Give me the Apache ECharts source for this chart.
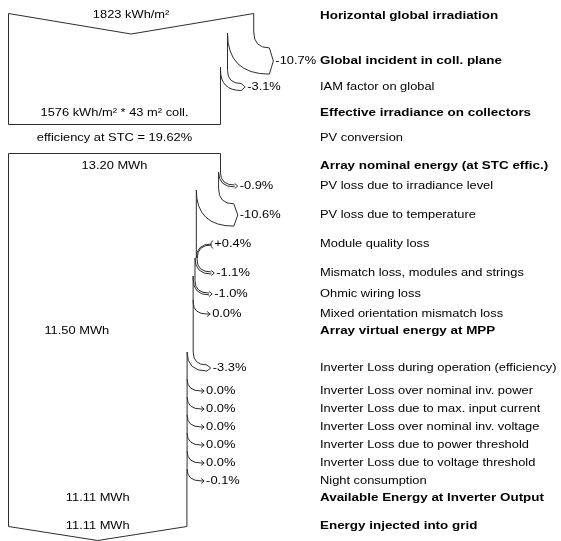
<!DOCTYPE html>
<html>
<head>
<meta charset="utf-8">
<script src="https://cdn.jsdelivr.net/npm/echarts@6/dist/echarts.min.js"></script>
<style>
  html, body { margin: 0; padding: 0; background: #fff; }
  #chart { width: 561px; height: 541px; }
</style>
</head>
<body>
<div id="chart"></div>
<script>
// ---------- values ----------
// Irradiance part (kWh/m²)
const irrStageNames = ['Horizontal global irradiation', 'Effective irradiance on collectors'];
const irrValues = [1823, 1576];
const collectorArea = 43; // m²
const irrLossNames = ['Global incident in coll. plane', 'IAM factor on global'];
const irrLossPct = [-10.7, -3.1];

// PV conversion
const conversionName = 'PV conversion';
const stcEfficiency = 19.62; // %

// Energy part (MWh)
const energyStageNames = [
  'Array nominal energy (at STC effic.)',
  'Array virtual energy at MPP',
  'Available Energy at Inverter Output',
  'Energy injected into grid'
];
const energyValues = [13.20, 11.50, 11.11, 11.11];
const arrayLossNames = [
  'PV loss due to irradiance level',
  'PV loss due to temperature',
  'Module quality loss',
  'Mismatch loss, modules and strings',
  'Ohmic wiring loss',
  'Mixed orientation mismatch loss'
];
const arrayLossPct = [-0.9, -10.6, 0.4, -1.1, -1.0, 0.0];
const inverterLossNames = [
  'Inverter Loss during operation (efficiency)',
  'Inverter Loss over nominal inv. power',
  'Inverter Loss due to max. input current',
  'Inverter Loss over nominal inv. voltage',
  'Inverter Loss due to power threshold',
  'Inverter Loss due to voltage threshold',
  'Night consumption'
];
const inverterLossPct = [-3.3, 0.0, 0.0, 0.0, 0.0, 0.0, -0.1];

// ---------- layout (y axis runs 0..541 from the top) ----------
const rowY = {
  irrTop: 15.5, irrLoss: [61, 87], irrEff: 113, conversion: 138,
  nominal: 166, arrayLoss: [186, 215, 244, 273, 294, 314], mpp: 331,
  invLoss: [368, 391, 409, 427, 445, 463, 481], available: 498, grid: 526
};
const irrBox = { top: 13.5, apex: 34, bottom: 124.5 };
const irrSplitY = [13.5, 33];
const irrInnerY = [33, 67];
const energyBox = { top: 153.5, bottom: 526.5, apex: 540.5 };
const arraySplitY = [153.5, 172, 190, 258, 276, 300];
const arrayInnerY = [172, 190, 258, 258, 276, 300];
const invSplitY = [300, 352, 379, 397, 415, 433, 451];
const invInnerY = [352, 379, 397, 415, 433, 451, 469];

const gridLeft = 8.5;
const chartW = 561, chartH = 541;
const refBandPx = 212;          // drawn width of the reference band (1576 kWh/m² and 13.20 MWh)
const labelColumnX = 320;
const LINE = '#2e2e2e';
const FONT = '"Liberation Sans", Arial, Helvetica, sans-serif';

// ---------- helpers ----------
function fmtPct(p) {
  if (p > 0) return '+' + p.toFixed(1) + '%';
  if (p < 0) return p.toFixed(1) + '%';
  return '0.0%';
}
function txt(x, y, str, bold, align) {
  return {
    type: 'text', x: x, y: y, scaleX: bold ? 1.22 : 1.17, silent: true,
    style: {
      text: str, fill: '#000', fontSize: 11, fontFamily: FONT,
      fontWeight: bold ? 'bold' : 'normal',
      align: align || 'left', verticalAlign: 'middle',
      textAlign: align || 'left', textVerticalAlign: 'middle'
    }
  };
}
function pth(d) {
  return { type: 'path', silent: true, shape: { pathData: d },
           style: { fill: 'none', stroke: LINE, lineWidth: 1 } };
}
// running band widths after each step; the last one is the stated stage total
function widths(start, pcts, end) {
  const w = [start];
  pcts.forEach((p, i) => w.push(i === pcts.length - 1 ? end : w[i] * (1 + p / 100)));
  return w;
}

function lossArrow(api, out, xR, xN, ySplit, yInner, yTip, pct) {
  const a = api.coord([xR, ySplit]);
  const b = api.coord([xN, yInner]);
  const pxR = a[0], pySplit = a[1], pxN = b[0], pyInner = b[1];
  const pyTip = api.coord([xR, yTip])[1];
  const w = pxR - pxN, half = w / 2;
  const xTip = pxR + 17 + 0.1 * w;
  const head = w > 3 ? 4 : 3;
  const xEnd = xTip - head;
  const capHalf = Math.max(half, 2.5);
  const yTop = pyTip - half;
  const yb = Math.max(pySplit, yTop - 12 - 0.15 * w);
  let d = `M${pxR} ${pySplit} L${pxR} ${yb} Q${pxR} ${yTop} ${xEnd} ${yTop}`;
  if (w < 1.2) d += ` L${xTip} ${pyTip}`;
  out.push(pth(d));
  if (w >= 1.2) {
    const yBot = pyTip + half;
    const yi = Math.max(pyInner, yBot - (xEnd - pxN));
    out.push(pth(`M${pxN} ${pyInner} L${pxN} ${yi} Q${pxN} ${yBot} ${xEnd} ${yBot}`));
  }
  out.push(pth(`M${xEnd} ${pyTip - capHalf} L${xTip} ${pyTip} L${xEnd} ${pyTip + capHalf}`));
  out.push(txt(xTip + 2, pyTip, fmtPct(pct), false));
}

function gainArrow(api, out, xR, xN, ySplit, yInner, yTip, pct) {
  const a = api.coord([xR, ySplit]);
  const b = api.coord([xN, yInner]);
  const pxR = a[0], pySplit = a[1], pxN = b[0], pyInner = b[1];
  const pyTip = api.coord([xR, yTip])[1];
  const g = Math.max(pxN - pxR, 1);
  const xTip = pxR + 15;
  out.push(pth(`M${pxR} ${pySplit} L${pxR} ${pyInner}`));
  out.push(pth(`M${pxR} ${pyInner} Q${pxR} ${pyTip} ${xTip} ${pyTip}`));
  out.push(pth(`M${pxR + g} ${pyInner} Q${pxR + g} ${pyTip + g} ${xTip} ${pyTip + g}`));
  out.push(pth(`M${xTip + 1.5} ${pyTip - 3.5} Q${xTip - 2.5} ${pyTip + g / 2} ${xTip + 1.5} ${pyTip + g + 3.5}`));
  out.push(txt(xTip + 3, pyTip, fmtPct(pct), false));
}

function drawLosses(api, out, w, pcts, splitY, innerY, tipY, edgeEndY) {
  pcts.forEach((p, j) => {
    if (p > 0) gainArrow(api, out, w[j], w[j + 1], splitY[j], innerY[j], tipY[j], p);
    else lossArrow(api, out, w[j], w[j + 1], splitY[j], innerY[j], tipY[j], p);
    // band edge that continues below this step
    const yEnd = j < pcts.length - 1 ? splitY[j + 1] : edgeEndY;
    if (yEnd > innerY[j]) {
      const p0 = api.coord([w[j + 1], innerY[j]]);
      const p1 = api.coord([w[j + 1], yEnd]);
      out.push(pth(`M${p0[0]} ${p0[1]} L${p1[0]} ${p1[1]}`));
    }
  });
}

// ---------- irradiance section ----------
const irrW = widths(irrValues[0], irrLossPct, irrValues[1]);

function renderIrradiance(params, api) {
  const out = [];
  const c = (x, y) => api.coord([x, y]);
  const w0 = irrW[0], wEnd = irrW[irrW.length - 1];
  const bl = c(0, irrBox.bottom), tl = c(0, irrBox.top), ap = c(w0 / 2, irrBox.apex), tr = c(w0, irrBox.top);
  out.push(pth(`M${bl[0]} ${bl[1]} L${tl[0]} ${tl[1]} L${ap[0]} ${ap[1]} L${tr[0]} ${tr[1]}`));
  const br = c(wEnd, irrBox.bottom), be = c(wEnd, irrInnerY[irrInnerY.length - 1]);
  out.push(pth(`M${bl[0]} ${bl[1]} L${br[0]} ${br[1]} L${be[0]} ${be[1]}`));
  drawLosses(api, out, irrW, irrLossPct, irrSplitY, irrInnerY, rowY.irrLoss, irrInnerY[irrInnerY.length - 1]);

  const lt = c(w0 / 2, 14.5);
  out.push(txt(lt[0], lt[1], irrValues[0] + ' kWh/m²', false, 'center'));
  const le = c(wEnd / 2, rowY.irrEff);
  out.push(txt(le[0], le[1], irrValues[1] + ' kWh/m² * ' + collectorArea + ' m² coll.', false, 'center'));
  const lc = c(wEnd / 2, rowY.conversion);
  out.push(txt(lc[0], lc[1], 'efficiency at STC = ' + stcEfficiency.toFixed(2) + '%', false, 'center'));

  const y = v => c(0, v)[1];
  out.push(txt(labelColumnX, y(rowY.irrTop), irrStageNames[0], true));
  out.push(txt(labelColumnX, y(rowY.irrLoss[0]), irrLossNames[0], true));
  out.push(txt(labelColumnX, y(rowY.irrLoss[1]), irrLossNames[1], false));
  out.push(txt(labelColumnX, y(rowY.irrEff), irrStageNames[1], true));
  out.push(txt(labelColumnX, y(rowY.conversion), conversionName, false));
  return { type: 'group', children: out };
}

// ---------- energy section ----------
const arrayW = widths(energyValues[0], arrayLossPct, energyValues[1]);
const invW = widths(energyValues[1], inverterLossPct, energyValues[2]);

function renderEnergy(params, api) {
  const out = [];
  const c = (x, y) => api.coord([x, y]);
  const bl = c(0, energyBox.bottom), tl = c(0, energyBox.top), tr = c(energyValues[0], energyBox.top);
  out.push(pth(`M${bl[0]} ${bl[1]} L${tl[0]} ${tl[1]} L${tr[0]} ${tr[1]}`));
  drawLosses(api, out, arrayW, arrayLossPct, arraySplitY, arrayInnerY, rowY.arrayLoss, invSplitY[0]);
  drawLosses(api, out, invW, inverterLossPct, invSplitY, invInnerY, rowY.invLoss, energyBox.bottom);
  const ap = c(energyValues[3] / 2, energyBox.apex), br = c(energyValues[3], energyBox.bottom);
  out.push(pth(`M${bl[0]} ${bl[1]} L${ap[0]} ${ap[1]} L${br[0]} ${br[1]}`));

  const l0 = c(energyValues[0] / 2, rowY.nominal);
  out.push(txt(l0[0], l0[1], energyValues[0].toFixed(2) + ' MWh', false, 'center'));
  const l1 = c(energyValues[1] * 0.37, rowY.mpp);
  out.push(txt(l1[0], l1[1], energyValues[1].toFixed(2) + ' MWh', false, 'center'));
  const l2 = c(energyValues[2] / 2, rowY.available);
  out.push(txt(l2[0], l2[1], energyValues[2].toFixed(2) + ' MWh', false, 'center'));
  const l3 = c(energyValues[3] / 2, rowY.grid);
  out.push(txt(l3[0], l3[1], energyValues[3].toFixed(2) + ' MWh', false, 'center'));

  const y = v => c(0, v)[1];
  out.push(txt(labelColumnX, y(rowY.nominal), energyStageNames[0], true));
  arrayLossNames.forEach((n, i) => out.push(txt(labelColumnX, y(rowY.arrayLoss[i]), n, false)));
  out.push(txt(labelColumnX, y(rowY.mpp), energyStageNames[1], true));
  inverterLossNames.forEach((n, i) => out.push(txt(labelColumnX, y(rowY.invLoss[i]), n, false)));
  out.push(txt(labelColumnX, y(rowY.available), energyStageNames[2], true));
  out.push(txt(labelColumnX, y(rowY.grid), energyStageNames[3], true));
  return { type: 'group', children: out };
}

// both sections share one pixel width for their reference band
const gridW = chartW - gridLeft;
const irrAxisMax = gridW * irrValues[1] / refBandPx;
const energyAxisMax = gridW * energyValues[0] / refBandPx;

const chart = echarts.init(document.getElementById('chart'), null, { renderer: 'canvas' });
chart.setOption({
  animation: false,
  backgroundColor: '#fff',
  grid: { left: gridLeft, right: 0, top: 0, bottom: 0 },
  xAxis: [
    { type: 'value', min: 0, max: irrAxisMax, show: false },
    { type: 'value', min: 0, max: energyAxisMax, show: false }
  ],
  yAxis: { type: 'value', min: 0, max: chartH, inverse: true, show: false },
  series: [
    { type: 'custom', name: 'Irradiance', xAxisIndex: 0, yAxisIndex: 0,
      data: [[0, 0]], renderItem: renderIrradiance, silent: true },
    { type: 'custom', name: 'Energy', xAxisIndex: 1, yAxisIndex: 0,
      data: [[0, 0]], renderItem: renderEnergy, silent: true }
  ]
});
</script>
</body>
</html>
